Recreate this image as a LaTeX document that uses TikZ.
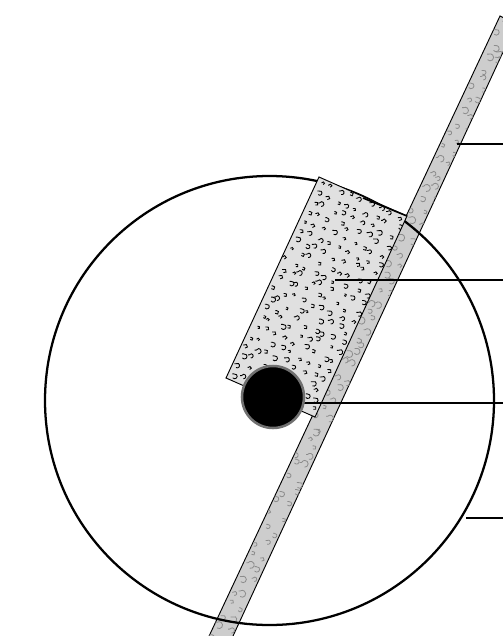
\documentclass[tikz,border=0pt]{standalone}
\definecolor{slabgray}{HTML}{E0E0E0}
\definecolor{bandgray}{HTML}{CDCDCD}
\definecolor{grainband}{HTML}{8C8C8C}
\definecolor{ringgray}{HTML}{707070}
\tikzset{
  outline/.style={draw=black, line width=0.7pt},
  band/.style={outline, fill=bandgray},
  slab/.style={outline, fill=slabgray},
  ring/.style={draw=black, line width=1.7pt},
  core/.style={draw=ringgray, line width=1.9pt, fill=black},
  leader/.style={draw=black, line width=1.7pt},
  grain/.style={line width=0.65pt, draw=black},
  graindim/.style={line width=0.6pt, draw=grainband}
}
\begin{document}
\begin{tikzpicture}[x=0.75pt,y=-0.75pt]
\clip (0,0) rectangle (503,636);
\fill[white] (0,0) rectangle (503,636);
\coordinate (bandTL) at (500,16);
\coordinate (bandTR) at (516,24);
\coordinate (bandBR) at (227,649);
\coordinate (bandBL) at (203,649);
\coordinate (slabA) at (319,177);
\coordinate (slabB) at (407,216);
\coordinate (slabC) at (315,417);
\coordinate (slabD) at (226,378);
% inclined band
\draw[band] (bandTL) -- (bandTR) -- (bandBR) -- (bandBL) -- cycle;
\begin{scope}
\clip (bandTL) -- (bandTR) -- (bandBR) -- (bandBL) -- cycle;
\pgfmathsetseed{11}
\foreach \i in {0,...,49} {
  \foreach \j in {0,1} {
    \pgfmathsetmacro{\s}{(\j+0.5)/2+0.2*rand}
    \pgfmathsetmacro{\t}{(\i+0.5)/50+0.007*rand}
    \pgfmathsetmacro{\px}{500+\s*19-\t*297}
    \pgfmathsetmacro{\py}{16+\s*7+\t*633}
    \pgfmathsetmacro{\pr}{1.8+1.8*rnd}
    \pgfmathsetmacro{\pa}{125+35*rand}
    \draw[graindim] (\px,\py) arc[start angle=\pa, delta angle=-250, radius=\pr] -- ++(-0.5*\pr,0);
  }
}
\end{scope}
% big circle
\coordinate (ringC) at (269.5,400.5);
\draw[ring] (ringC) circle[radius=224.5];
% dotted slab
\draw[slab] (slabA) -- (slabB) -- (slabC) -- (slabD) -- cycle;
\begin{scope}
\clip (slabA) -- (slabB) -- (slabC) -- (slabD) -- cycle;
\pgfmathsetseed{5}
\foreach \i in {0,...,20} {
  \foreach \j in {0,...,8} {
    \pgfmathsetmacro{\s}{(\j+0.5)/9+0.035*rand}
    \pgfmathsetmacro{\t}{(\i+0.5)/21+0.012*rand}
    \pgfmathsetmacro{\px}{319+\s*88-\t*93}
    \pgfmathsetmacro{\py}{177+\s*39+\t*201}
    \pgfmathsetmacro{\pr}{1.2+1.4*rnd}
    \pgfmathsetmacro{\pa}{125+35*rand}
    \draw[grain] (\px,\py) arc[start angle=\pa, delta angle=-250, radius=\pr] -- ++(-0.6*\pr,0);
  }
}
\end{scope}
\coordinate (slabE) at (363,198);
\draw[black, line width=1.2pt] (slabE) -- (slabB);
% leaders
\coordinate (endA) at (503,144);
\coordinate (endB) at (503,280);
\coordinate (endC) at (503,403);
\coordinate (endD) at (503,518);
\coordinate (tipA) at (457,144);
\coordinate (tipB) at (335,280);
\coordinate (tipC) at (300,403);
\coordinate (tipD) at (466,518);
\draw[leader] (tipA) -- (endA);
\draw[leader] (tipB) -- (endB);
\draw[leader] (tipC) -- (endC);
\draw[leader] (tipD) -- (endD);
% core
\node[core, circle, minimum size=46.5pt, inner sep=0pt, outer sep=0pt] (core) at (273,397) {};
\end{tikzpicture}
\end{document}
